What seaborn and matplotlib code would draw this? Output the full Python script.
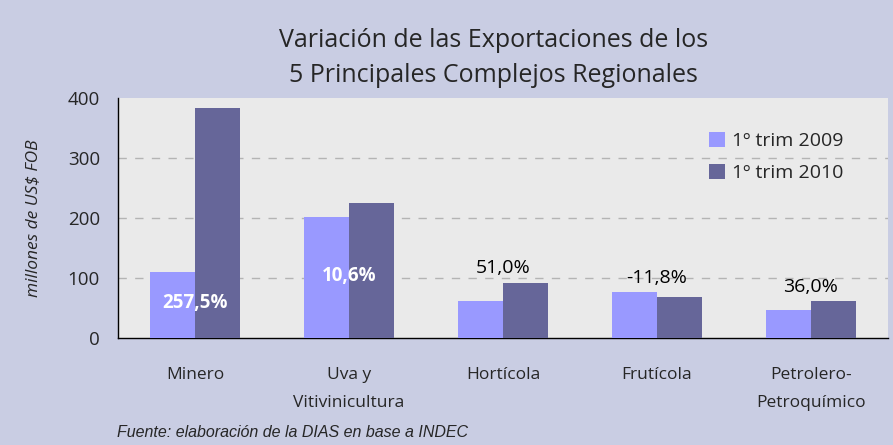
import pandas as pd
import matplotlib.pyplot as plt
import seaborn as sns

categorias = ["Minero", "Uva y\nVitivinicultura", "Hortícola", "Frutícola", "Petrolero-\nPetroquímico"]
trim_2009 = [110, 202, 62, 77, 47]
trim_2010 = [384, 225, 92, 68, 62]
variacion = ["257,5%", "10,6%", "51,0%", "-11,8%", "36,0%"]
series = ["1º trim 2009", "1º trim 2010"]

df = pd.DataFrame({
    "Complejo": categorias * 2,
    "Periodo": [series[0]] * 5 + [series[1]] * 5,
    "Valor": trim_2009 + trim_2010,
})

sns.set_theme(style="white")
plt.rcParams["font.family"] = ["Open Sans", "DejaVu Sans"]

fig = plt.figure(figsize=(8.93, 4.45), dpi=100, facecolor="#C9CDE3")
ax = fig.add_axes([0.1321, 0.2404, 0.8623, 0.5394])
ax.set_facecolor("#EAEAEA")

sns.barplot(data=df, x="Complejo", y="Valor", hue="Periodo", order=categorias,
            palette=["#9999FF", "#666699"], width=0.585, gap=0, saturation=1,
            linewidth=0, edgecolor="none", ax=ax, zorder=3)

ax.set_ylim(0, 400)
ax.set_xlim(-0.5, 4.5)
ax.set_yticks([0, 100, 200, 300, 400])
for v in [100, 200, 300]:
    ax.axhline(v, linestyle=(0, (6, 6)), color="#B4B4B4", linewidth=1, zorder=1)

ax.set_xticks([i - 0.5 for i in range(6)])
ax.set_xticklabels([])
ax.set_xticks(range(5), minor=True)
ax.set_xticklabels(categorias, minor=True, fontsize=12.5, linespacing=1.95)
ax.tick_params(axis="x", which="major", direction="out", length=5, width=1, color="black")
ax.tick_params(axis="x", which="minor", length=0, pad=21)
ax.tick_params(axis="y", direction="out", length=5, width=1, color="black", labelsize=13.5, pad=8)
for lbl in ax.get_xticklabels(minor=True):
    lbl.set_verticalalignment("top")

for s in ["top", "right"]:
    ax.spines[s].set_visible(False)
for s in ["left", "bottom"]:
    ax.spines[s].set_color("black")
    ax.spines[s].set_linewidth(1)

ax.set_xlabel("")
ax.set_ylabel("millones de US$ FOB", fontsize=12.5, style="italic", labelpad=19)

pos_y = [58, 103, 117, 100, 85]
for i, txt in enumerate(variacion):
    if i < 2:
        ax.text(i, pos_y[i], txt, ha="center", va="center", color="white",
                fontsize=13.5, fontweight="bold", zorder=5)
    else:
        ax.text(i, pos_y[i], txt, ha="center", va="center", color="black",
                fontsize=14, zorder=5)

leg = ax.legend(loc="upper left", bbox_to_anchor=(0.745, 0.93), frameon=False,
                fontsize=14, handlelength=0.8, handleheight=0.8,
                labelspacing=0.7, handletextpad=0.4)

fig.text(0.553, 0.908, "Variación de las Exportaciones de los", ha="center",
         va="center", fontsize=18)
fig.text(0.553, 0.83, "5 Principales Complejos Regionales", ha="center",
         va="center", fontsize=18)
fig.text(0.131, 0.027, "Fuente: elaboración de la DIAS en base a INDEC",
         fontsize=11.5, style="italic", family=["Liberation Sans", "DejaVu Sans"],
         va="center")

fig.savefig("out.png", dpi=100, facecolor=fig.get_facecolor())
